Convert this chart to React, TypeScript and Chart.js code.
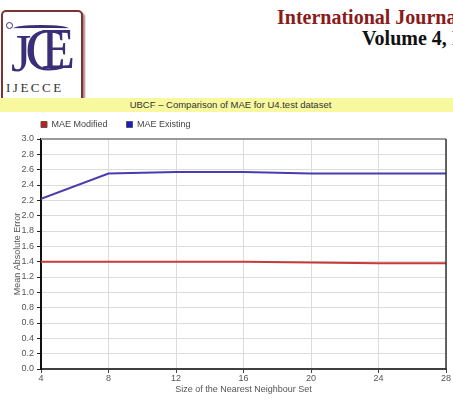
import React, { useEffect, useRef } from "react";
import { Chart, registerables } from "chart.js";

Chart.register(...registerables);

const neighbourSizes = [4, 8, 12, 16, 20, 24, 28];
const maeModified = [1.4, 1.4, 1.4, 1.4, 1.39, 1.38, 1.38];
const maeExisting = [2.22, 2.55, 2.57, 2.57, 2.55, 2.55, 2.55];
const seriesLabels = ["MAE Modified", "MAE Existing"];
const chartTitle = "UBCF \u2013 Comparison of MAE for U4.test dataset";
const xAxisTitle = "Size of the Nearest Neighbour Set";
const yAxisTitle = "Mean Absolute Error";
const journalTitle = "International Journal of Electronics Communication and Computer Engineering";
const volumeText = "Volume 4, Issue";
const logoText = "IJECCE";

const FONT = "'Liberation Sans', Arial, sans-serif";
const SERIF = "'Liberation Serif', 'Times New Roman', serif";

const framePlugin = {
  id: "frame",
  afterLayout(chart: any) {
    const lg = chart.legend;
    if (lg) {
      lg.left += 22;
      lg.right += 22;
    }
  },
  afterDatasetsDraw(chart: any) {
    const { ctx, chartArea } = chart;
    ctx.save();
    ctx.lineWidth = 2;
    ctx.strokeStyle = "#9a9a9a";
    ctx.beginPath();
    ctx.moveTo(chartArea.left, chartArea.top);
    ctx.lineTo(chartArea.right, chartArea.top);
    ctx.stroke();
    ctx.strokeStyle = "#333333";
    ctx.lineWidth = 1.5;
    ctx.beginPath();
    ctx.moveTo(chartArea.right, chartArea.top);
    ctx.lineTo(chartArea.right, chartArea.bottom);
    ctx.stroke();
    ctx.restore();
  },
};

function MaeChart() {
  const ref = useRef<HTMLCanvasElement | null>(null);
  useEffect(() => {
    if (!ref.current) return;
    const chart = new Chart(ref.current, {
      type: "line",
      data: {
        datasets: [
          {
            label: seriesLabels[0],
            data: neighbourSizes.map((x, i) => ({ x, y: maeModified[i] })),
            borderColor: "#c83a3a",
            backgroundColor: "#cc1a1a",
            borderWidth: 2,
            pointRadius: 0,
            tension: 0,
            fill: false,
          },
          {
            label: seriesLabels[1],
            data: neighbourSizes.map((x, i) => ({ x, y: maeExisting[i] })),
            borderColor: "#4a3cb0",
            backgroundColor: "#1a1acc",
            borderWidth: 2,
            pointRadius: 0,
            tension: 0,
            fill: false,
          },
        ],
      },
      options: {
        animation: false,
        responsive: false,
        devicePixelRatio: 1,
        layout: { padding: { left: 0, right: 7, top: 0, bottom: 0 } },
        plugins: {
          title: { display: false },
          tooltip: { enabled: false },
          legend: {
            display: true,
            position: "top",
            align: "start",
            labels: {
              boxWidth: 6,
              boxHeight: 6,
              padding: 19,
              color: "#444",
              font: { family: FONT, size: 9 },
              generateLabels: (c: any) =>
                (Chart.defaults.plugins.legend.labels as any)
                  .generateLabels(c)
                  .map((l: any) => ({ ...l, lineWidth: 1, strokeStyle: "#555" })),
            },
          },
        },
        scales: {
          x: {
            type: "linear",
            min: 4,
            max: 28,
            afterFit: (s: any) => {
              s.height = 39;
            },
            ticks: {
              stepSize: 4,
              color: "#555",
              padding: 0,
              font: { family: FONT, size: 9 },
              maxRotation: 0,
            },
            grid: {
              color: "#dcdcdc",
              lineWidth: 1,
              tickLength: 4,
              tickColor: "#444",
            },
            border: { display: true, color: "#404040", width: 2 },
            title: {
              display: true,
              text: xAxisTitle,
              color: "#555",
              font: { family: FONT, size: 9 },
              padding: { top: 0, bottom: 13 },
            },
          },
          y: {
            min: 0,
            max: 3,
            afterFit: (s: any) => {
              s.width = 41;
            },
            ticks: {
              stepSize: 0.2,
              color: "#555",
              padding: 3,
              font: { family: FONT, size: 9 },
              callback: (v: any) => Number(v).toFixed(1),
            },
            grid: {
              color: "#dcdcdc",
              lineWidth: 1,
              tickLength: 4,
              tickColor: "#222",
            },
            border: { display: true, color: "#111", width: 2 },
            title: {
              display: true,
              text: yAxisTitle,
              color: "#555",
              font: { family: FONT, size: 9 },
              padding: { top: 12, bottom: 0 },
            },
          },
        },
      } as any,
      plugins: [framePlugin],
    });
    return () => chart.destroy();
  }, []);
  return (
    <canvas
      ref={ref}
      width={453}
      height={307}
      style={{ position: "absolute", left: 0, top: 101, width: 453, height: 307 }}
    />
  );
}

function Logo() {
  return (
    <div
      style={{
        position: "absolute",
        left: 1,
        top: 10,
        width: 78,
        height: 88,
        border: "2px solid #7a3434",
        borderRadius: 5,
        boxShadow: "2px 2px 2px #b08080",
        background: "#fff",
        overflow: "hidden",
      }}
    >
      <div
        style={{
          position: "absolute",
          left: 3,
          top: 10,
          width: 5,
          height: 5,
          border: "1.5px solid #3a2e78",
          borderRadius: "50%",
        }}
      />
      <div
        style={{
          position: "absolute",
          left: 10,
          top: 13,
          width: 56,
          height: 4,
          borderTop: "3px solid #3a2e78",
          borderRadius: "50% 50% 0 0",
        }}
      />
      <div
        style={{
          position: "absolute",
          left: 22,
          top: 6,
          fontFamily: SERIF,
          fontSize: 62,
          lineHeight: "62px",
          color: "#3a2e78",
        }}
      >
        C
      </div>
      <div
        style={{
          position: "absolute",
          left: 38,
          top: 9,
          fontFamily: SERIF,
          fontSize: 56,
          lineHeight: "56px",
          color: "#3a2e78",
        }}
      >
        E
      </div>
      <div
        style={{
          position: "absolute",
          left: 8,
          top: 16,
          fontFamily: SERIF,
          fontSize: 52,
          lineHeight: "52px",
          color: "#3a2e78",
        }}
      >
        J
      </div>
      <div
        style={{
          position: "absolute",
          left: 3,
          top: 68,
          fontFamily: SERIF,
          fontSize: 13,
          letterSpacing: 2.5,
          color: "#333",
        }}
      >
        {logoText}
      </div>
    </div>
  );
}

export default function App() {
  return (
    <div
      style={{
        position: "fixed",
        left: 0,
        top: 0,
        width: 453,
        height: 408,
        background: "#fff",
        overflow: "hidden",
      }}
    >
      <Logo />
      <div
        style={{
          position: "absolute",
          left: 277,
          top: 6,
          whiteSpace: "nowrap",
          fontFamily: SERIF,
          fontWeight: "bold",
          fontSize: 20,
          lineHeight: "23px",
          color: "#8b1a1a",
        }}
      >
        {journalTitle}
      </div>
      <div
        style={{
          position: "absolute",
          left: 362,
          top: 27,
          whiteSpace: "nowrap",
          fontFamily: SERIF,
          fontWeight: "bold",
          fontSize: 20,
          lineHeight: "23px",
          color: "#111",
        }}
      >
        {volumeText}
      </div>
      <div
        style={{
          position: "absolute",
          left: 0,
          top: 98,
          width: 453,
          height: 14,
          background: "#f8f89e",
          boxSizing: "border-box",
          paddingLeft: 8,
          textAlign: "center",
          fontFamily: FONT,
          fontSize: 9.5,
          lineHeight: "14px",
          color: "#333",
          whiteSpace: "nowrap",
        }}
      >
        {chartTitle}
      </div>
      <MaeChart />
    </div>
  );
}
